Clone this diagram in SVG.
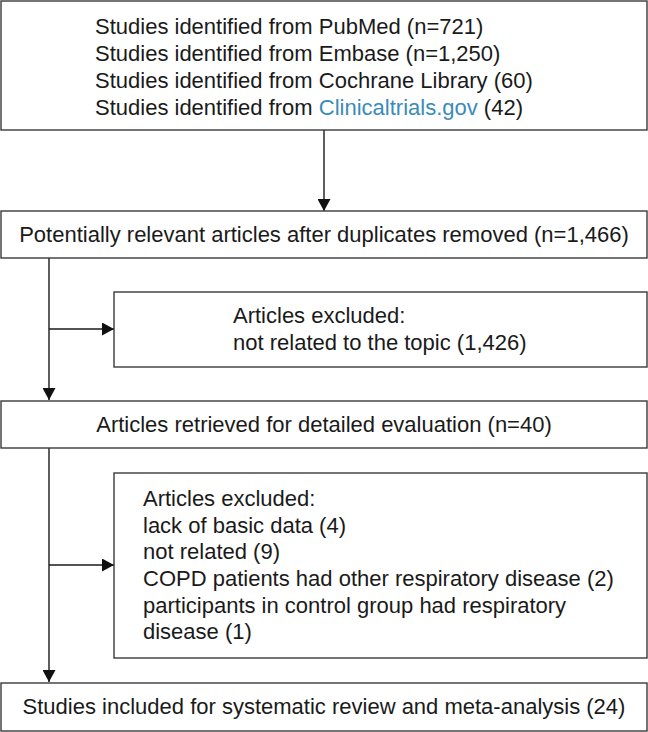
<svg xmlns="http://www.w3.org/2000/svg" width="648" height="732" viewBox="0 0 648 732">
<defs>
<style>
.box{fill:#ffffff;stroke:#3a3a3a;stroke-width:1.4}
.t{font-family:"Liberation Sans",Arial,Helvetica,sans-serif;font-size:22px;fill:#1a1a1a}
.c{text-anchor:middle}
.link{fill:#3a8bb8}
.line{fill:none;stroke:#1a1a1a;stroke-width:1.4}
</style>
<marker id="arr" markerUnits="userSpaceOnUse" markerWidth="13" markerHeight="13" refX="12" refY="6.5" orient="auto" viewBox="0 0 13 13">
<path d="M0,0 L12,6.5 L0,13 Z" fill="#111"/>
</marker>
</defs>
<rect width="648" height="732" fill="#ffffff"/>
<g id="connectors">
<line class="line" x1="324" y1="130" x2="324" y2="211" marker-end="url(#arr)"/>
<line class="line" x1="49" y1="258" x2="49" y2="400" marker-end="url(#arr)"/>
<line class="line" x1="49" y1="329" x2="114" y2="329" marker-end="url(#arr)"/>
<line class="line" x1="49" y1="448" x2="49" y2="682" marker-end="url(#arr)"/>
<line class="line" x1="49" y1="565" x2="114" y2="565" marker-end="url(#arr)"/>
</g>
<g id="sources">
<rect class="box" x="1" y="1" width="646" height="129"/>
<text class="t" x="95" y="34">Studies identified from PubMed (n=721)</text>
<text class="t" x="95" y="61">Studies identified from Embase (n=1,250)</text>
<text class="t" x="95" y="88">Studies identified from Cochrane Library (60)</text>
<text class="t" x="95" y="114.5">Studies identified from <tspan class="link">Clinicaltrials.gov</tspan> (42)</text>
</g>
<g id="dedup">
<rect class="box" x="1" y="211" width="646" height="47"/>
<text class="t c" x="324" y="242">Potentially relevant articles after duplicates removed (n=1,466)</text>
</g>
<g id="excluded1">
<rect class="box" x="114" y="292" width="533" height="75"/>
<text class="t" x="233" y="323">Articles excluded:</text>
<text class="t" x="233" y="350">not related to the topic (1,426)</text>
</g>
<g id="retrieved">
<rect class="box" x="1" y="401" width="646" height="47"/>
<text class="t c" x="324" y="432">Articles retrieved for detailed evaluation (n=40)</text>
</g>
<g id="excluded2">
<rect class="box" x="114" y="473" width="533" height="185"/>
<text class="t" x="143" y="506">Articles excluded:</text>
<text class="t" x="143" y="533">lack of basic data (4)</text>
<text class="t" x="143" y="559">not related (9)</text>
<text class="t" x="143" y="586">COPD patients had other respiratory disease (2)</text>
<text class="t" x="143" y="613">participants in control group had respiratory</text>
<text class="t" x="143" y="639">disease (1)</text>
</g>
<g id="included">
<rect class="box" x="1" y="683" width="646" height="48"/>
<text class="t c" x="324" y="714">Studies included for systematic review and meta-analysis (24)</text>
</g>
</svg>
